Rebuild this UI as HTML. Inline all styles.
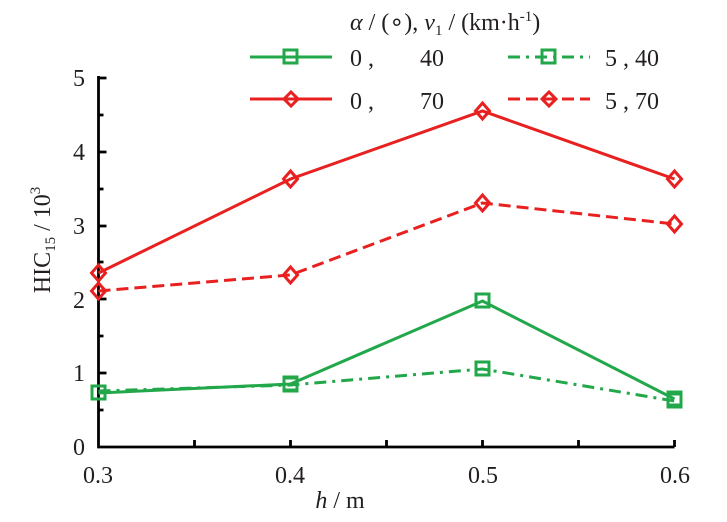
<!DOCTYPE html>
<html><head><style>body{margin:0;background:#fff}svg{display:block}text{font-family:"Liberation Serif","Times New Roman",serif;fill:#231f20}</style></head><body>
<svg width="727" height="522" viewBox="0 0 727 522">
<g stroke="#000" stroke-width="2.8" fill="none">
<path d="M98.5 76 V447 H674.5"/>
<path d="M98.5 78h8M98.5 152h8M98.5 226h8M98.5 299h8M98.5 373h8M98.5 115h5M98.5 189h5M98.5 262h5M98.5 336h5M98.5 410h5"/>
<path d="M194.5 447v-7M290.5 447v-7M386.5 447v-7M482.5 447v-7M578.5 447v-7M674.5 447v-7"/>
</g>
<g font-size="24" text-anchor="end">
<text x="85" y="86">5</text><text x="85" y="160">4</text><text x="85" y="234">3</text><text x="85" y="308">2</text><text x="85" y="381">1</text><text x="85" y="455">0</text>
</g>
<g font-size="24" text-anchor="middle">
<text x="98" y="483">0.3</text><text x="290" y="483">0.4</text><text x="483" y="483">0.5</text><text x="675" y="483">0.6</text>
</g>
<text x="340" y="508" font-size="24" text-anchor="middle"><tspan font-style="italic">h</tspan> / m</text>
<text transform="translate(50,240) rotate(-90)" font-size="24" text-anchor="middle">HIC<tspan font-size="15" dy="5">15</tspan><tspan dy="-5"> / 10</tspan><tspan font-size="15" dy="-10">3</tspan></text>
<text x="350" y="30" font-size="24"><tspan font-style="italic">α</tspan> / (∘), <tspan font-style="italic">v</tspan><tspan font-size="15" dy="5">1</tspan><tspan dy="-5"> / (km·h</tspan><tspan font-size="15" dy="-9">-1</tspan><tspan dy="9">)</tspan></text>
<g font-size="24">
<text x="350" y="66">0 ,</text><text x="420" y="66">40</text>
<text x="350" y="109">0 ,</text><text x="420" y="109">70</text>
<text x="605" y="66">5 , 40</text>
<text x="605" y="109">5 , 70</text>
</g>
<g fill="none" stroke-width="3">
<path d="M250 57H332" stroke="#22a84a"/><rect x="284" y="50" width="13" height="13" stroke="#22a84a"/>
<path d="M508 57H590" stroke="#22a84a" stroke-dasharray="12,6,3,6"/><rect x="542" y="50" width="13" height="13" stroke="#22a84a"/>
<path d="M250 99H332" stroke="#e8201f"/><path d="M291 92l7 7-7 7-7-7z" stroke="#e8201f"/>
<path d="M508 99H590" stroke="#e8201f" stroke-dasharray="12,6"/><path d="M549 92l7 7-7 7-7-7z" stroke="#e8201f"/>
<polyline points="98.5,393 290.5,384 482.5,301 674.5,399" stroke="#22a84a"/>
<polyline points="98.5,391 290.5,385 482.5,369 674.5,401" stroke="#22a84a" stroke-dasharray="12,6,3,6"/>
<polyline points="98.5,273 290.5,179 482.5,111 674.5,179" stroke="#e8201f"/>
<polyline points="98.5,291 290.5,275 482.5,203 674.5,224" stroke="#e8201f" stroke-dasharray="12,6"/>
<g stroke="#22a84a">
<rect x="92" y="386" width="13" height="13"/><rect x="284" y="377" width="13" height="13"/><rect x="476" y="294" width="13" height="13"/><rect x="668" y="392" width="13" height="13"/>
<rect x="284" y="378" width="13" height="13"/><rect x="476" y="362" width="13" height="13"/><rect x="668" y="394" width="13" height="13"/>
</g>
<g stroke="#e8201f">
<path d="M98.5 265l7 8-7 8-7-8z"/><path d="M290.5 171l7 8-7 8-7-8z"/><path d="M482.5 103l7 8-7 8-7-8z"/><path d="M674.5 171l7 8-7 8-7-8z"/>
<path d="M98.5 283l7 8-7 8-7-8z"/><path d="M290.5 267l7 8-7 8-7-8z"/><path d="M482.5 195l7 8-7 8-7-8z"/><path d="M674.5 216l7 8-7 8-7-8z"/>
</g>
</g>
</svg>
</body></html>
